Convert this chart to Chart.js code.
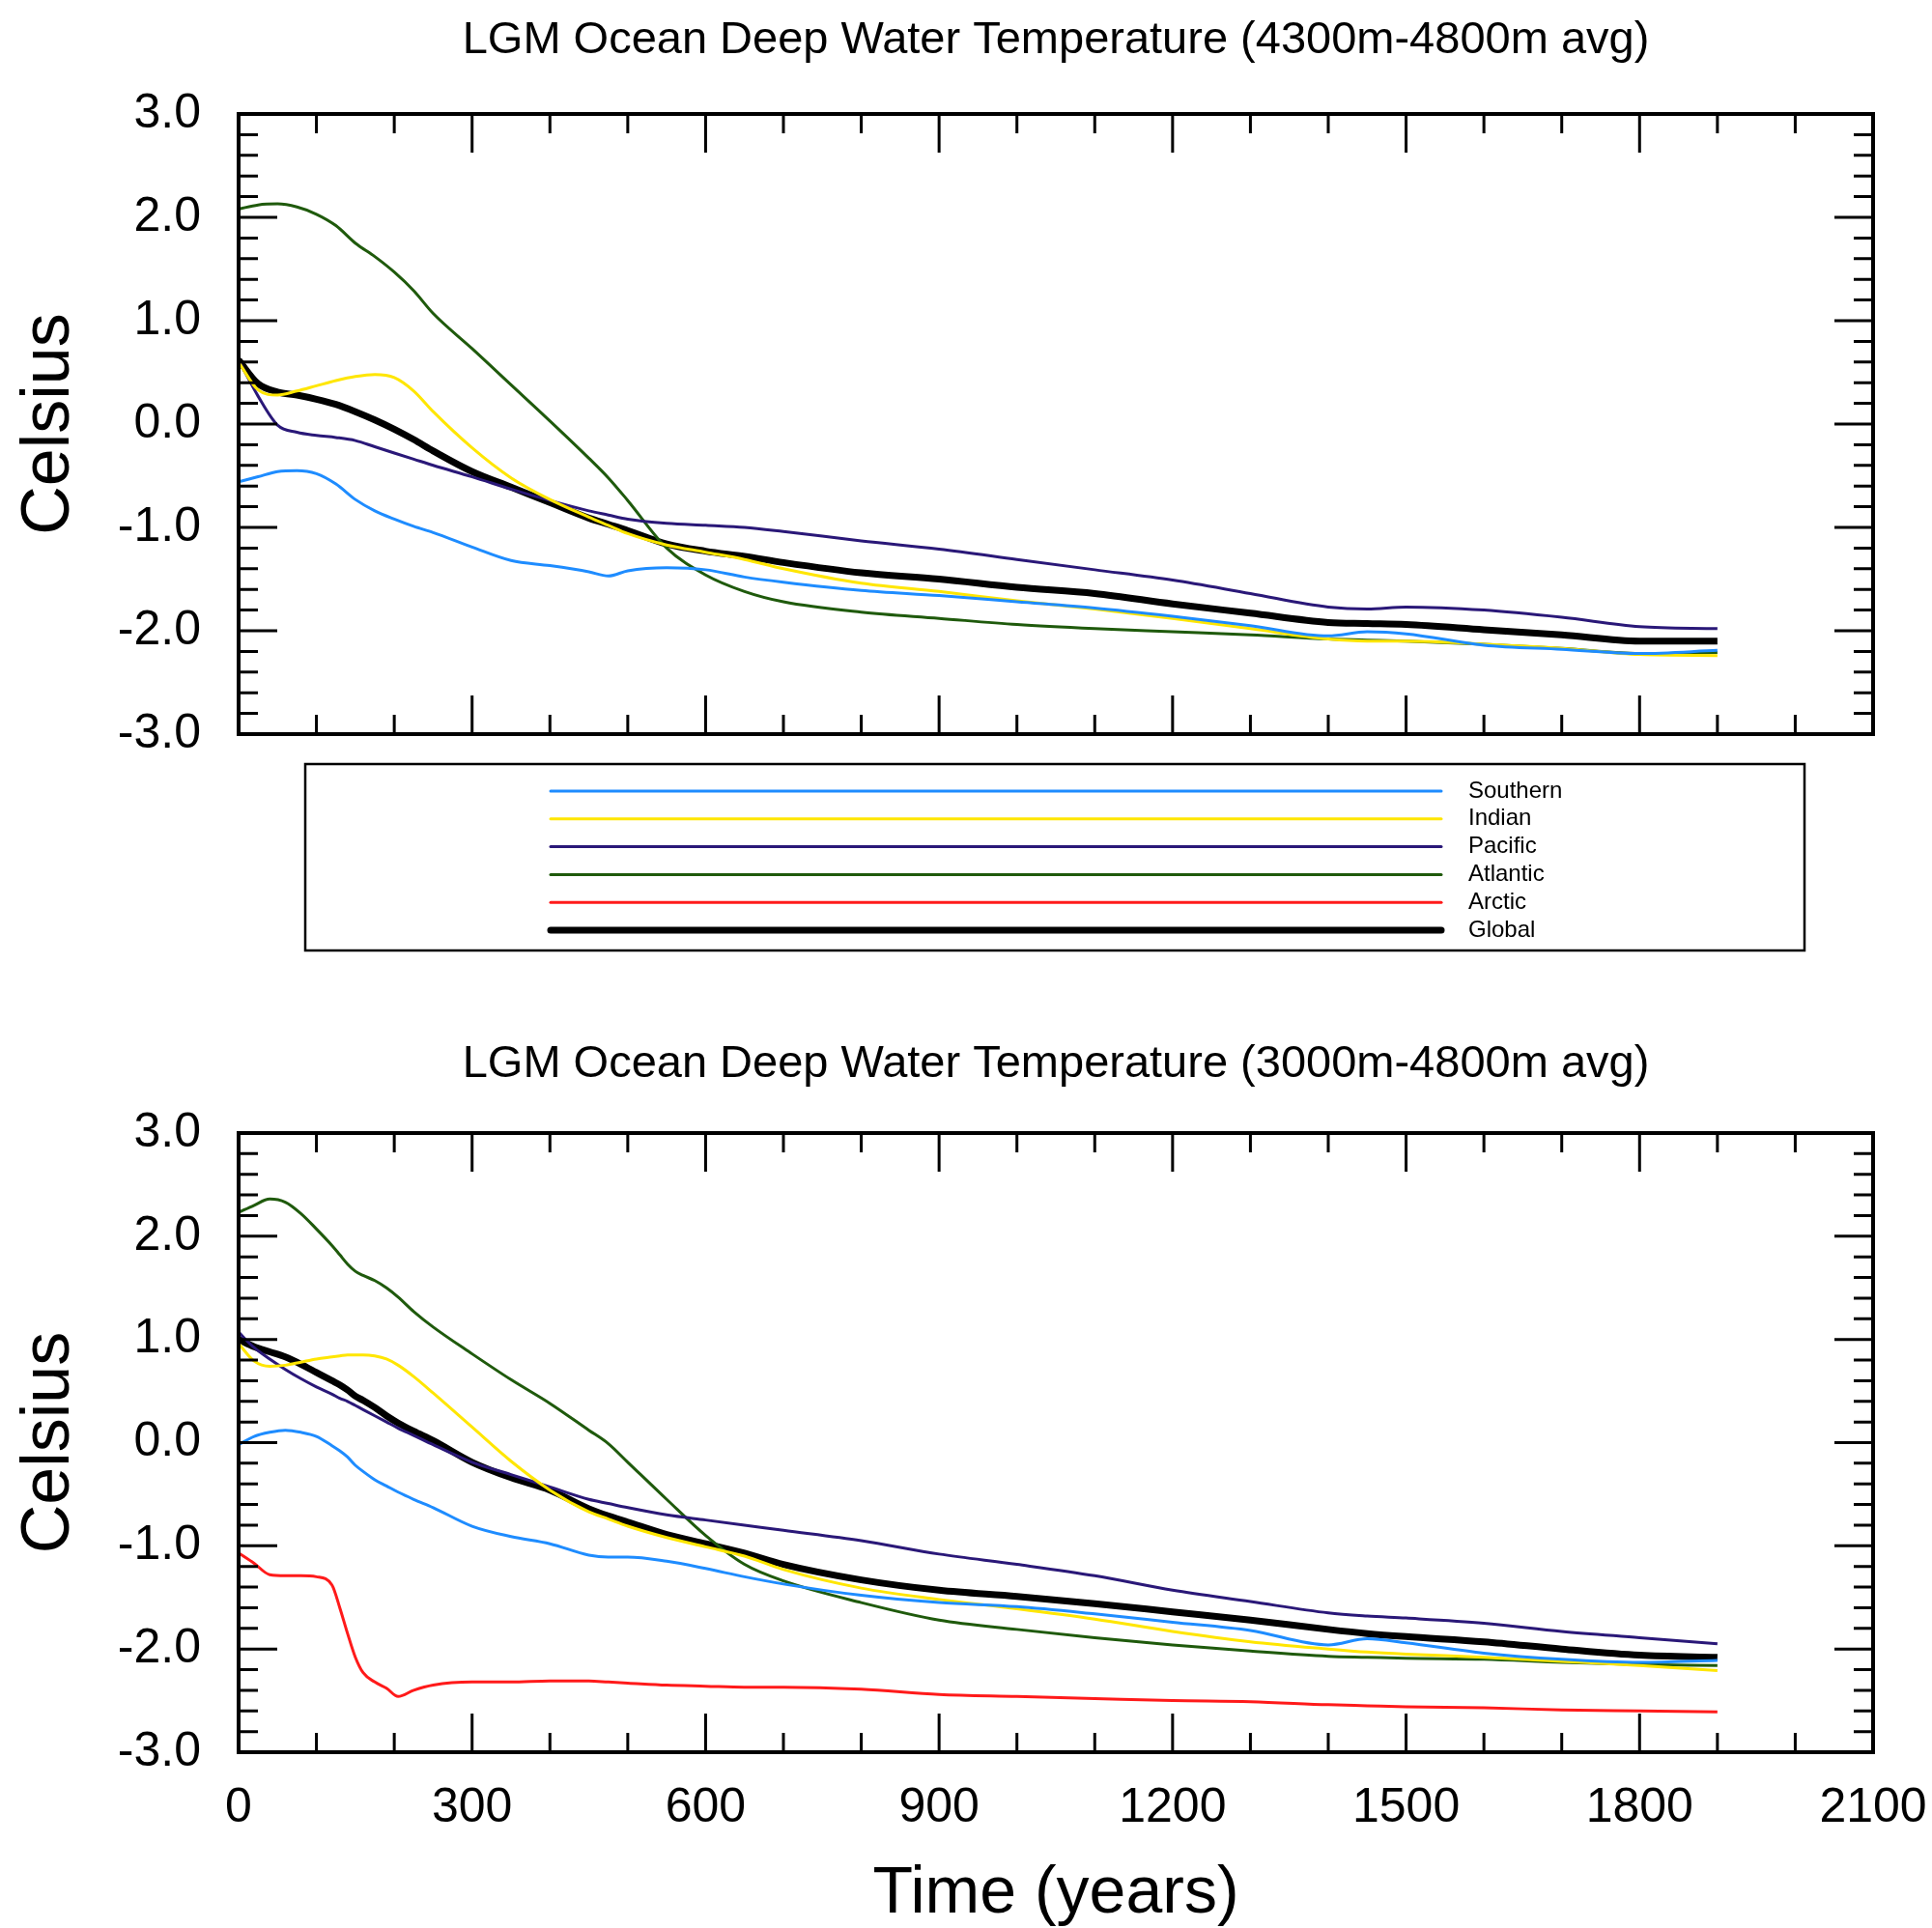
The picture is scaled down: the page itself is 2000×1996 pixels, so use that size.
<!DOCTYPE html>
<html>
<head>
<meta charset="utf-8">
<title>LGM Ocean Deep Water Temperature</title>
<script src="https://cdn.jsdelivr.net/npm/chart.js@4.4.1/dist/chart.umd.min.js"></script>
<style>
  html, body { margin: 0; padding: 0; background: #fff; }
  #wrap { position: relative; width: 2000px; height: 1996px; background: #fff; }
  #topChart { position: absolute; left: 0; top: 0; }
  #botChart { position: absolute; left: 0; top: 1040px; }
</style>
</head>
<body>
<div id="wrap">
  <canvas id="topChart" width="2000" height="1000"></canvas>
  <canvas id="botChart" width="2000" height="956"></canvas>
</div>
<script>
// series names (legend order)
const seriesNames = ["Southern", "Indian", "Pacific", "Atlantic", "Arctic", "Global"];

// top panel: 4300m-4800m average
const yearsTop = [0,25,50,75,100,125,150,175,200,225,250,300,350,400,450,475,500,550,600,650,700,800,900,1000,1100,1200,1300,1400,1450,1500,1600,1700,1800,1900];
const southernTop = [-0.56,-0.51,-0.46,-0.45,-0.48,-0.58,-0.73,-0.84,-0.92,-0.99,-1.05,-1.19,-1.32,-1.37,-1.43,-1.47,-1.42,-1.39,-1.41,-1.48,-1.53,-1.61,-1.66,-1.72,-1.78,-1.86,-1.95,-2.05,-2.01,-2.03,-2.14,-2.18,-2.22,-2.19];
const indianTop = [0.60,0.33,0.28,0.32,0.37,0.42,0.46,0.48,0.45,0.32,0.12,-0.23,-0.52,-0.73,-0.90,-0.98,-1.06,-1.17,-1.24,-1.31,-1.40,-1.54,-1.62,-1.71,-1.79,-1.88,-1.98,-2.08,-2.10,-2.10,-2.13,-2.17,-2.23,-2.24];
const pacificTop = [0.62,0.27,-0.01,-0.08,-0.11,-0.13,-0.16,-0.22,-0.28,-0.34,-0.40,-0.51,-0.63,-0.74,-0.84,-0.88,-0.92,-0.96,-0.98,-1.00,-1.04,-1.13,-1.21,-1.31,-1.41,-1.51,-1.64,-1.77,-1.79,-1.77,-1.80,-1.87,-1.96,-1.98];
const atlanticTop = [2.08,2.12,2.13,2.10,2.03,1.92,1.75,1.62,1.47,1.29,1.07,0.73,0.38,0.03,-0.33,-0.52,-0.74,-1.20,-1.46,-1.62,-1.72,-1.82,-1.88,-1.94,-1.98,-2.01,-2.04,-2.08,-2.09,-2.10,-2.13,-2.17,-2.22,-2.21];
const arcticTop = [];
const globalTop = [0.62,0.39,0.31,0.28,0.24,0.19,0.12,0.04,-0.05,-0.15,-0.26,-0.46,-0.61,-0.76,-0.91,-0.97,-1.03,-1.16,-1.23,-1.28,-1.34,-1.44,-1.50,-1.58,-1.64,-1.74,-1.83,-1.92,-1.93,-1.94,-1.99,-2.04,-2.10,-2.10];

// bottom panel: 3000m-4800m average
const yearsBottom = [0,20,40,60,80,100,120,130,140,150,160,175,190,205,225,250,300,350,400,450,475,500,550,600,650,700,800,900,1000,1100,1200,1300,1400,1450,1500,1600,1700,1800,1900];
const southernBottom = [-0.02,0.06,0.10,0.12,0.10,0.06,-0.03,-0.08,-0.14,-0.22,-0.28,-0.36,-0.42,-0.48,-0.55,-0.63,-0.81,-0.91,-0.98,-1.09,-1.11,-1.11,-1.15,-1.22,-1.30,-1.37,-1.48,-1.55,-1.59,-1.66,-1.74,-1.82,-1.96,-1.90,-1.94,-2.04,-2.10,-2.13,-2.11];
const indianBottom = [0.96,0.79,0.74,0.75,0.78,0.81,0.83,0.84,0.85,0.85,0.85,0.84,0.81,0.75,0.64,0.48,0.15,-0.18,-0.46,-0.67,-0.74,-0.81,-0.92,-1.01,-1.10,-1.23,-1.41,-1.52,-1.61,-1.71,-1.83,-1.93,-2.00,-2.03,-2.05,-2.08,-2.12,-2.16,-2.21];
const pacificBottom = [1.07,0.92,0.81,0.71,0.62,0.54,0.47,0.43,0.40,0.36,0.32,0.26,0.20,0.14,0.07,-0.02,-0.19,-0.31,-0.43,-0.55,-0.59,-0.63,-0.70,-0.75,-0.80,-0.85,-0.95,-1.08,-1.18,-1.29,-1.43,-1.54,-1.65,-1.68,-1.70,-1.75,-1.83,-1.89,-1.95];
const atlanticBottom = [2.23,2.30,2.36,2.33,2.22,2.07,1.91,1.82,1.73,1.66,1.62,1.57,1.50,1.41,1.27,1.12,0.86,0.61,0.38,0.12,-0.01,-0.19,-0.55,-0.90,-1.18,-1.34,-1.55,-1.72,-1.81,-1.89,-1.96,-2.02,-2.07,-2.08,-2.09,-2.10,-2.13,-2.15,-2.16];
const arcticBottom = [-1.07,-1.17,-1.28,-1.29,-1.29,-1.30,-1.38,-1.60,-1.85,-2.08,-2.23,-2.32,-2.38,-2.46,-2.40,-2.35,-2.32,-2.32,-2.31,-2.31,-2.32,-2.33,-2.35,-2.36,-2.37,-2.37,-2.39,-2.44,-2.46,-2.48,-2.50,-2.51,-2.54,-2.55,-2.56,-2.57,-2.59,-2.60,-2.61];
const globalBottom = [1.00,0.93,0.88,0.83,0.76,0.68,0.60,0.56,0.51,0.45,0.41,0.34,0.26,0.19,0.11,0.02,-0.19,-0.34,-0.46,-0.64,-0.71,-0.77,-0.89,-0.98,-1.07,-1.18,-1.33,-1.43,-1.49,-1.56,-1.64,-1.72,-1.81,-1.85,-1.88,-1.93,-2.00,-2.06,-2.08];

const seriesColors = ["#1e8cff", "#ffe600", "#2a1878", "#1f5a0c", "#ff1a1a", "#000000"];
const seriesWidths = [3, 3, 3, 3, 3, 7];

const FONT = "'Liberation Sans', Arial, Helvetica, sans-serif";
Chart.defaults.font.family = FONT;
Chart.defaults.color = '#000';

function makeDatasets(years, lists) {
  return lists.map((vals, i) => ({
    label: seriesNames[i],
    data: vals.map((v, k) => ({ x: years[k], y: v })),
    borderColor: seriesColors[i],
    backgroundColor: seriesColors[i],
    borderWidth: seriesWidths[i],
    pointRadius: 0,
    fill: false,
    cubicInterpolationMode: 'monotone'
  }));
}

// boxed frame with inward major/minor ticks on all four sides
const frameTicks = {
  id: 'frameTicks',
  afterDatasetsDraw(chart) {
    const { ctx, chartArea: a } = chart;
    const x = chart.scales.x, y = chart.scales.y;
    ctx.save();
    ctx.strokeStyle = '#000';
    ctx.lineWidth = 3;
    ctx.beginPath();
    for (let t = 0; t <= 2100; t += 100) {
      const px = x.getPixelForValue(t);
      const len = t % 300 === 0 ? 40 : 20;
      ctx.moveTo(px, a.bottom); ctx.lineTo(px, a.bottom - len);
      ctx.moveTo(px, a.top); ctx.lineTo(px, a.top + len);
    }
    for (let i = -15; i <= 15; i++) {
      const py = y.getPixelForValue(i / 5);
      const len = i % 5 === 0 ? 40 : 20;
      ctx.moveTo(a.left, py); ctx.lineTo(a.left + len, py);
      ctx.moveTo(a.right, py); ctx.lineTo(a.right - len, py);
    }
    ctx.stroke();
    ctx.lineWidth = 4;
    ctx.strokeRect(a.left, a.top, a.right - a.left, a.bottom - a.top);
    ctx.restore();
  }
};

// legend box under the top panel
const boxLegend = {
  id: 'boxLegend',
  afterDraw(chart) {
    const { ctx } = chart;
    ctx.save();
    ctx.strokeStyle = '#000';
    ctx.lineWidth = 2.5;
    ctx.strokeRect(316, 791, 1868 - 316, 984 - 791);
    ctx.font = "24px " + FONT;
    ctx.textBaseline = 'middle';
    ctx.textAlign = 'left';
    chart.data.datasets.forEach((ds, i) => {
      const yy = 819 + i * 28.8;
      ctx.beginPath();
      ctx.strokeStyle = ds.borderColor;
      ctx.lineWidth = ds.borderWidth;
      ctx.lineCap = 'round';
      ctx.moveTo(570, yy);
      ctx.lineTo(1492, yy);
      ctx.stroke();
      ctx.fillStyle = '#000';
      ctx.fillText(ds.label, 1520, yy);
    });
    ctx.restore();
  }
};

function makeOptions(titleText, titlePad, showX, xHeight) {
  return {
    responsive: false,
    animation: false,
    layout: { padding: { left: 0, right: 61, top: 0, bottom: 0 } },
    plugins: {
      legend: { display: false },
      tooltip: { enabled: false },
      title: {
        display: true,
        text: titleText,
        fullSize: false,
        color: '#000',
        font: { size: 47, weight: 'normal', lineHeight: 1.2 },
        padding: titlePad
      }
    },
    scales: {
      x: {
        type: 'linear', min: 0, max: 2100,
        grid: { display: false, drawTicks: false },
        border: { display: false },
        ticks: {
          display: showX, stepSize: 300, padding: 28, maxRotation: 0, autoSkip: false,
          font: { size: 50 }, color: '#000',
          callback: v => String(v)
        },
        title: {
          display: showX, text: 'Time (years)', color: '#000',
          font: { size: 68, lineHeight: 1 }, padding: { top: 0, bottom: 1 }
        },
        afterFit: s => { s.height = xHeight; s.paddingLeft = 0; s.paddingRight = 0; }
      },
      y: {
        min: -3, max: 3,
        grid: { display: false, drawTicks: false },
        border: { display: false },
        ticks: {
          stepSize: 1, padding: 39, font: { size: 50 }, color: '#000',
          callback: v => v.toFixed(1)
        },
        title: {
          display: true, text: 'Celsius', color: '#000',
          font: { size: 70, lineHeight: 1 }, padding: { top: 17, bottom: 0 }
        },
        afterFit: s => { s.width = 247; s.paddingTop = 0; s.paddingBottom = 0; }
      }
    }
  };
}

new Chart(document.getElementById('topChart'), {
  type: 'line',
  data: {
    datasets: makeDatasets(yearsTop, [southernTop, indianTop, pacificTop, atlanticTop, arcticTop, globalTop])
  },
  options: makeOptions('LGM Ocean Deep Water Temperature (4300m-4800m avg)', { top: 14, bottom: 47.6 }, false, 240),
  plugins: [frameTicks, boxLegend]
});

new Chart(document.getElementById('botChart'), {
  type: 'line',
  data: {
    datasets: makeDatasets(yearsBottom, [southernBottom, indianBottom, pacificBottom, atlanticBottom, arcticBottom, globalBottom])
  },
  options: makeOptions('LGM Ocean Deep Water Temperature (3000m-4800m avg)', { top: 34, bottom: 42.6 }, true, 182),
  plugins: [frameTicks]
});
</script>
</body>
</html>
